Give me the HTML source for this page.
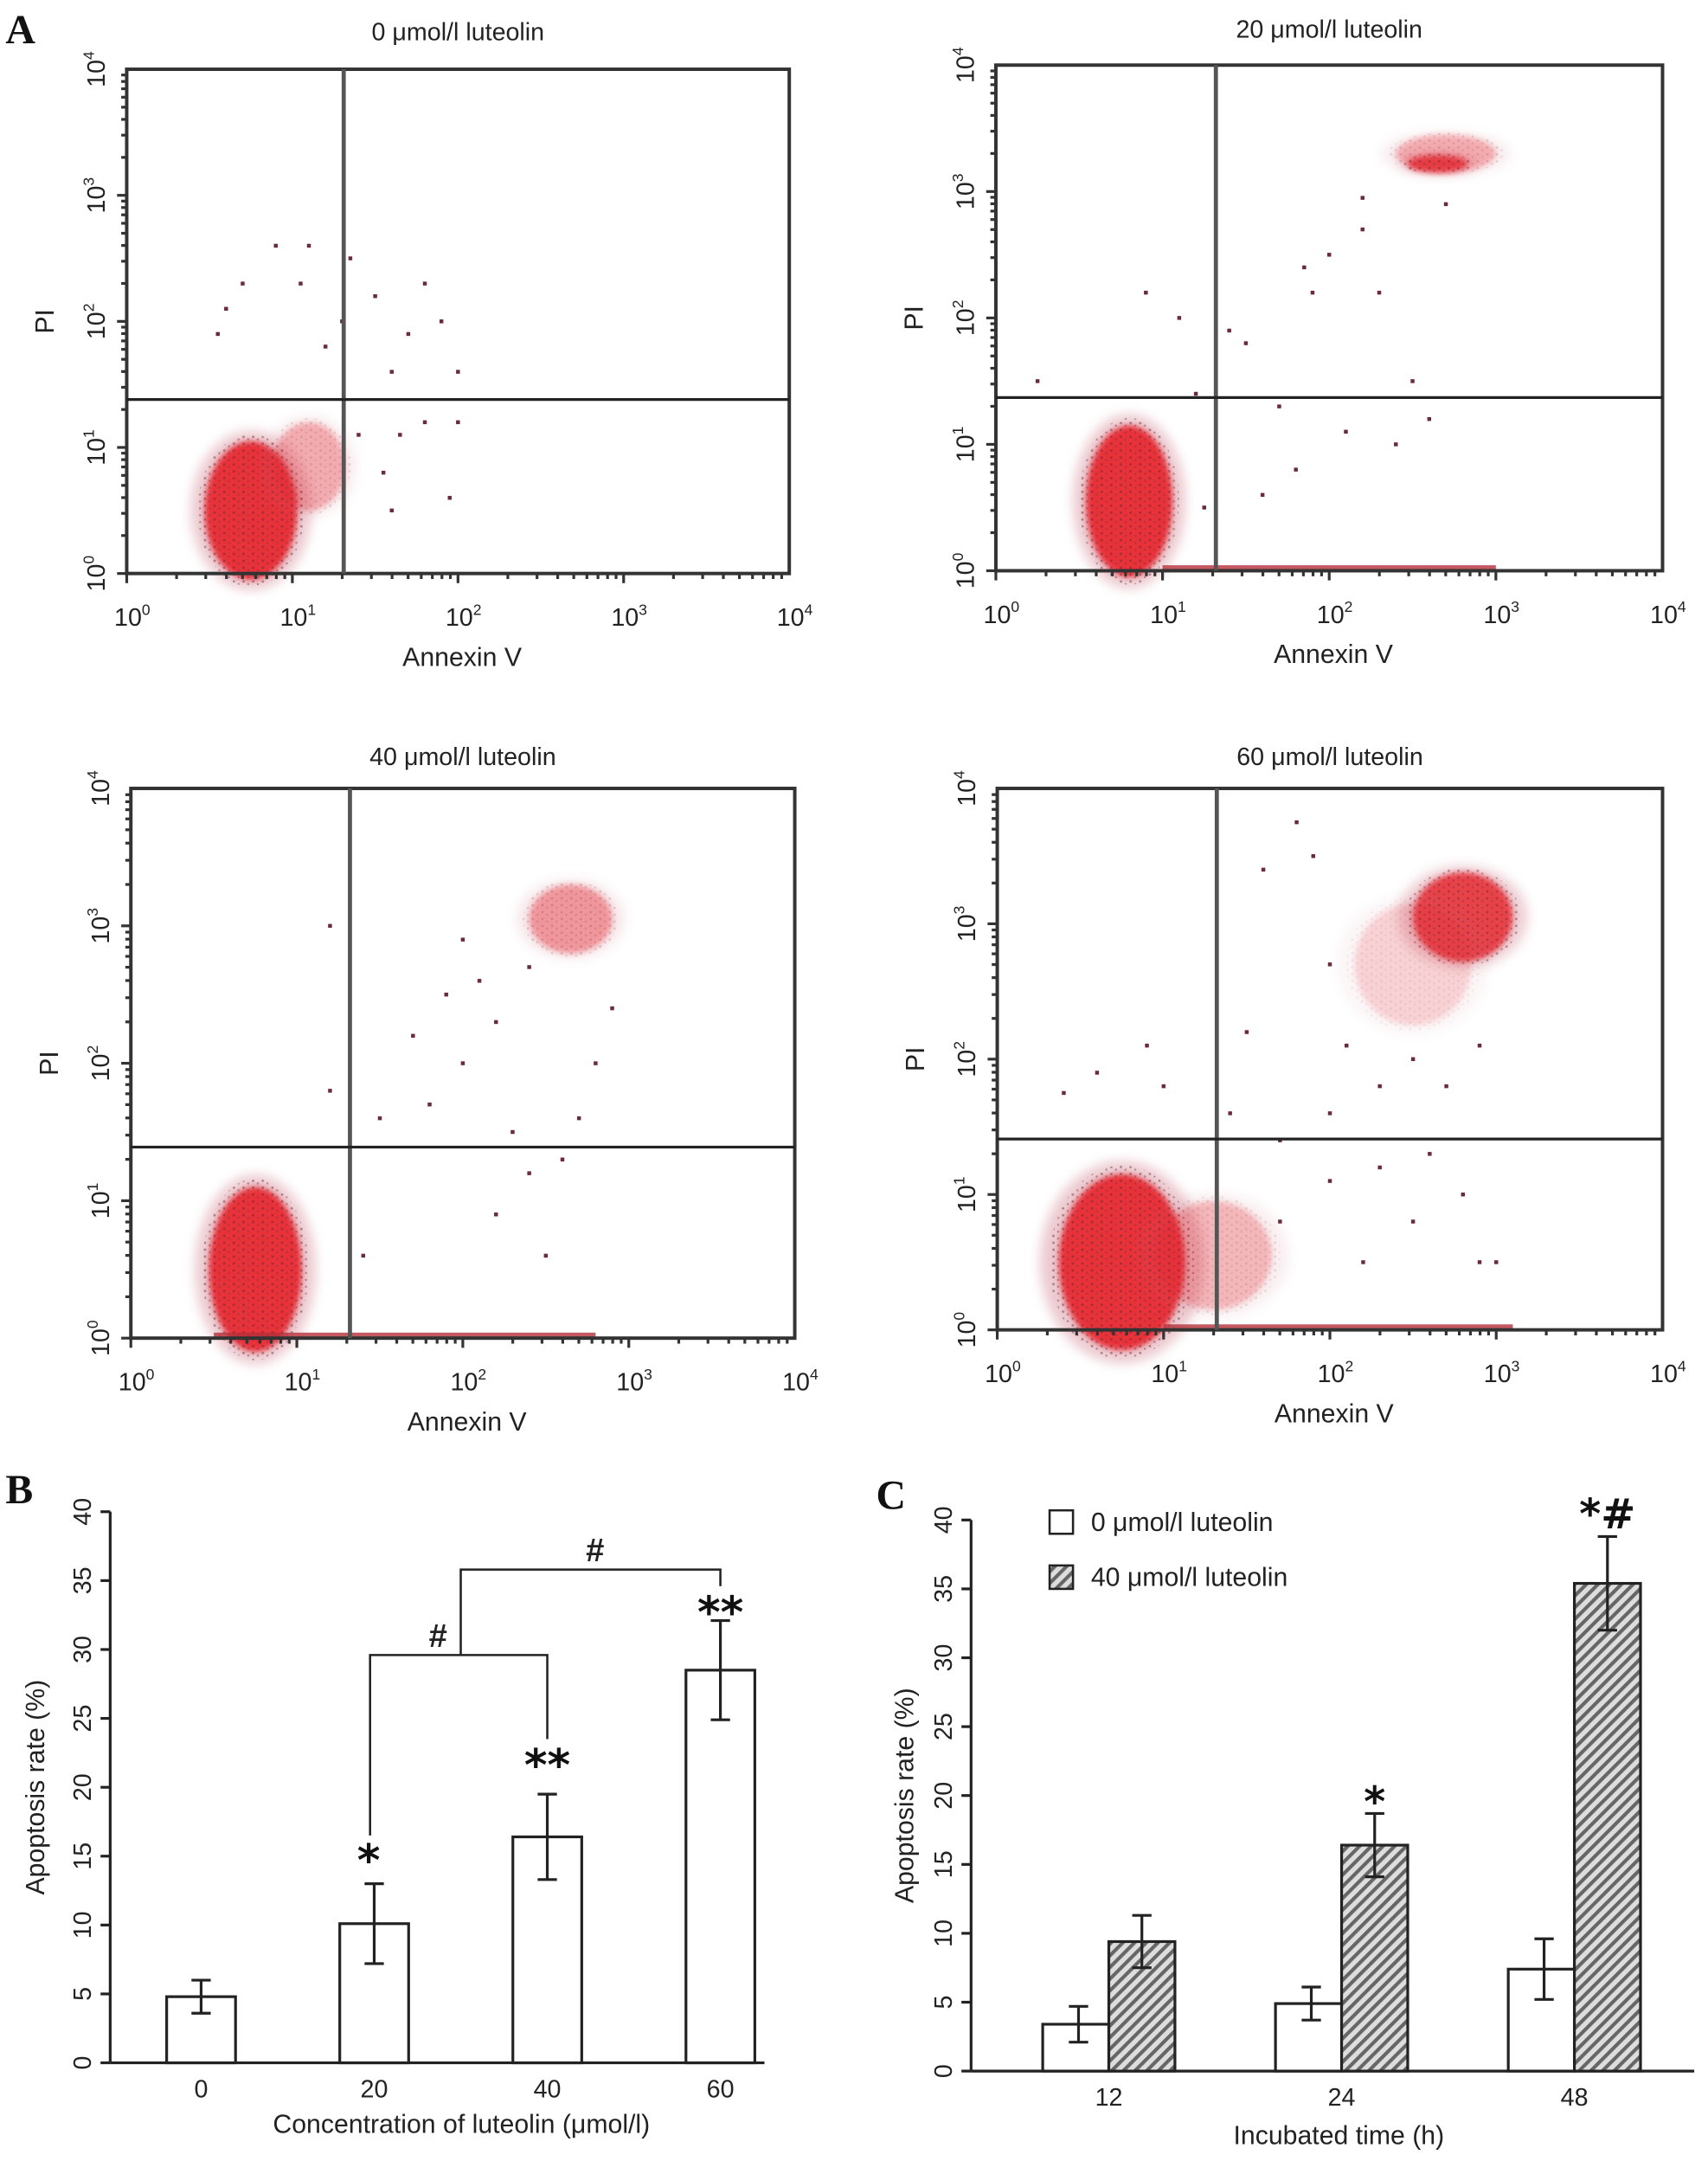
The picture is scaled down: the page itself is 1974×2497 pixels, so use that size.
<!DOCTYPE html>
<html><head><meta charset="utf-8"><style>
html,body{margin:0;padding:0;background:#fff}
svg{display:block}
text{font-family:"Liberation Sans",sans-serif;fill:#222}
.lbl{font-family:"Liberation Serif",serif;font-weight:bold;fill:#111}
.mark{font-family:"DejaVu Sans",sans-serif;font-weight:bold;fill:#111}
</style></head><body>
<svg id="fig" width="1974" height="2497" viewBox="0 0 1240 1568" xmlns="http://www.w3.org/2000/svg">
<defs>
<filter id="blur" x="-50%" y="-50%" width="200%" height="200%"><feGaussianBlur stdDeviation="4"/></filter>
<filter id="blur2" x="-50%" y="-50%" width="200%" height="200%"><feGaussianBlur stdDeviation="2"/></filter>
<pattern id="speck" patternUnits="userSpaceOnUse" width="7" height="5">
<rect x="1" y="1" width="1.6" height="1.6" fill="#5a2030"/><rect x="4.5" y="3" width="1.4" height="1.4" fill="#7a3040"/></pattern>
<pattern id="hatch" patternUnits="userSpaceOnUse" width="6" height="6" patternTransform="rotate(45)">
<rect width="6" height="6" fill="#ddd"/><rect x="0" y="0" width="2.6" height="6" fill="#666"/></pattern>
</defs>
<text class="lbl" x="4" y="31" font-size="30">A</text>
<text class="lbl" x="4" y="1091" font-size="30">B</text>
<text class="lbl" x="636" y="1095" font-size="30">C</text>
<g id="flow"></g>
<g id="chartB"></g>
<g id="chartC"></g>
</svg>
<script>
const NS="http://www.w3.org/2000/svg";
function mk(p,tag,attrs,txt){const e=document.createElementNS(NS,tag);for(const k in attrs)e.setAttribute(k,attrs[k]);if(txt!==undefined)e.textContent=txt;p.appendChild(e);return e;}

// ---- Flow cytometry panels (A) ----
const flowTitles=["0 μmol/l luteolin","20 μmol/l luteolin","40 μmol/l luteolin","60 μmol/l luteolin"];
const flowGateX=[1.31,1.32,1.32,1.32];
const flowGateY=[1.38,1.37,1.39,1.41];
// clusters: [centerLogX, centerLogY, radiusLogX, radiusLogY, intensity]
const flowClusters=[
 [[0.75,0.5,0.28,0.55,1],[1.1,0.85,0.22,0.35,0.35]],
 [[0.8,0.55,0.26,0.6,1],[2.65,3.22,0.18,0.07,0.9],[2.7,3.3,0.3,0.15,0.35]],
 [[0.75,0.5,0.28,0.6,1],[2.65,3.05,0.25,0.25,0.45]],
 [[0.75,0.5,0.38,0.65,1],[1.3,0.55,0.35,0.4,0.3],[2.8,3.05,0.3,0.33,0.9],[2.5,2.7,0.35,0.45,0.18]]
];
// baseline streak along bottom: [startLogX,endLogX] (null = none)
const flowStreak=[null,[1.0,3.0],[0.5,2.8],[1.0,3.1]];
// scattered events [logX, logY]
const flowPoints=[
 [[1.8,2.3],[1.1,2.6],[0.9,2.6],[1.35,2.5],[0.6,2.1],[1.5,2.2],[1.9,2.0],[1.7,1.9],[2.0,1.6],[1.6,1.6],[1.3,2.0],[1.8,1.2],[2.0,1.2],[1.95,0.6],[1.6,0.5],[1.55,0.8],[1.65,1.1],[1.4,1.1],[0.7,2.3],[1.05,2.3],[0.55,1.9],[1.2,1.8]],
 [[2.2,2.95],[1.85,2.4],[2.0,2.5],[2.3,2.2],[1.5,1.8],[1.2,1.4],[1.7,1.3],[2.1,1.1],[2.4,1.0],[1.6,0.6],[2.5,1.5],[2.2,2.7],[2.7,2.9],[1.9,2.2],[0.9,2.2],[1.1,2.0],[1.4,1.9],[2.6,1.2],[1.25,0.5],[1.8,0.8],[0.25,1.5]],
 [[1.2,3.0],[1.7,2.2],[2.0,2.0],[2.2,2.3],[1.5,1.6],[1.2,1.8],[2.3,1.5],[2.4,1.2],[2.5,0.6],[2.6,1.3],[1.9,2.5],[2.1,2.6],[2.8,2.0],[2.7,1.6],[2.9,2.4],[1.8,1.7],[1.4,0.6],[2.2,0.9],[2.0,2.9],[2.4,2.7]],
 [[1.0,1.8],[0.6,1.9],[0.4,1.75],[0.9,2.1],[1.8,3.75],[1.6,3.4],[1.9,3.5],[2.0,2.7],[1.5,2.2],[2.1,2.1],[2.3,1.8],[2.5,2.0],[2.7,1.8],[2.9,2.1],[1.7,1.4],[2.0,1.1],[2.3,1.2],[2.5,0.8],[2.9,0.5],[3.0,0.5],[1.7,0.8],[2.2,0.5],[2.6,1.3],[2.8,1.0],[1.4,1.6],[2.0,1.6]]
];
const flowBoxes=[[92,573,50,416],[723,1207,47,414],[95,577,572,971],[724,1207,572,965]];
const flowTitleY=[29,27,555,555];

function flowPanel(i){
 const g=mk(document.getElementById('flow'),'g',{});
 
 
 const [x0,x1,y0,y1]=flowBoxes[i];
 const sx=v=>x0+(x1-x0)*v/4, sy=v=>y1-(y1-y0)*v/4;
 const t=mk(g,'text',{x:(x0+x1)/2,y:flowTitleY[i],'font-size':18,'text-anchor':'middle'},flowTitles[i]);
 
 
 const cg=mk(g,'g',{});
 
 
 flowClusters[i].forEach(c=>{
  const rx=(x1-x0)*c[2]/4, ry=(y1-y0)*c[3]/4;
  const h=mk(cg,'ellipse',{cx:sx(c[0]),cy:sy(c[1]),rx:rx*1.3,ry:ry*1.15,fill:'#c86878',opacity:0.35*c[4],filter:'url(#blur)'});
  
  
  const e=mk(cg,'ellipse',{cx:sx(c[0]),cy:sy(c[1]),rx:rx,ry:ry,fill:'#e8222a',opacity:0.9*c[4],filter:'url(#blur2)'});
  
  
  const s=mk(cg,'ellipse',{cx:sx(c[0]),cy:sy(c[1]),rx:rx*1.15,ry:ry*1.1,fill:'url(#speck)',opacity:0.45*c[4]});
  
  
 });
 if(flowStreak[i]){
  const s=mk(g,'rect',{x:sx(flowStreak[i][0]),y:y1-4,width:sx(flowStreak[i][1])-sx(flowStreak[i][0]),height:4,fill:'#b5303a',opacity:0.8});
  
  
 }
 flowPoints[i].forEach(p=>{
  const d=mk(g,'rect',{x:sx(p[0])-1.4,y:sy(p[1])-1.4,width:2.8,height:2.8,fill:'#6a2a3a'});
  
  
 });
 const b=mk(g,'rect',{x:x0,y:y0,width:x1-x0,height:y1-y0,fill:'none',stroke:'#333','stroke-width':2.5});
 
 
 const gv=mk(g,'line',{x1:sx(flowGateX[i]),x2:sx(flowGateX[i]),y1:y0,y2:y1,stroke:'#555','stroke-width':3});
 
 
 const gh=mk(g,'line',{x1:x0,x2:x1,y1:sy(flowGateY[i]),y2:sy(flowGateY[i]),stroke:'#222','stroke-width':2});
 
 
 for(let d=0;d<4;d++){for(let k=1;k<10;k++){const v=d+Math.log10(k);const L=k===1?7:4;
  mk(g,'line',{x1:sx(v),x2:sx(v),y1:y1,y2:y1+L,stroke:'#333','stroke-width':2});
  mk(g,'line',{x1:x0,x2:x0-L,y1:sy(v),y2:sy(v),stroke:'#333','stroke-width':2});}}
 for(let d=0;d<=4;d++){
  const tx=mk(g,'text',{x:sx(d)+4,y:y1+38,'font-size':18,'text-anchor':'middle'});
  
  
  mk(tx,'tspan',{},'10');mk(tx,'tspan',{'font-size':11,dy:-8},String(d));
  const ty=mk(g,'text',{x:0,y:0,'font-size':18,'text-anchor':'middle',transform:`translate(${x0-16},${sy(d)}) rotate(-90)`});
  
  
  mk(ty,'tspan',{},'10');mk(ty,'tspan',{'font-size':11,dy:-8},String(d));
 }
 const ax=mk(g,'text',{x:(x0+x1)/2+3,y:y1+67,'font-size':19,'text-anchor':'middle'},'Annexin V');
 
 
 const ay=mk(g,'text',{x:0,y:0,'font-size':19,'text-anchor':'middle',transform:`translate(${x0-53},${sy(2)}) rotate(-90)`},'PI');
 
 
}
for(let i=0;i<4;i++)flowPanel(i);

// ---- Chart B ----
const bCategories=["0","20","40","60"];
const bValues=[4.8,10.1,16.4,28.5];
const bErrors=[1.2,2.9,3.1,3.6];
const bYTicks=[0,5,10,15,20,25,30,35,40];
const bMarks=["","*","**","**"];
(function(){
 const g=document.getElementById('chartB');
 const X0=80,X1=555,Y0=1497,Y1=1097;
 const sy=v=>Y0-(Y0-Y1)*v/40;
 const cx=[146,271,397,523];
 const sx=i=>cx[0]+(cx[3]-cx[0])*i/(bCategories.length-1);
 const bw=50;
 const markOff=[0,-6,-10,5];
 mk(g,'line',{x1:X0,x2:X0,y1:Y1,y2:Y0,stroke:'#222','stroke-width':2});
 mk(g,'line',{x1:X0,x2:X1,y1:Y0,y2:Y0,stroke:'#222','stroke-width':2});
 bYTicks.forEach(v=>{mk(g,'line',{x1:X0-7,x2:X0,y1:sy(v),y2:sy(v),stroke:'#222','stroke-width':2});
  const t=mk(g,'text',{x:0,y:0,'font-size':18,'text-anchor':'middle',transform:`translate(${X0-14},${sy(v)}) rotate(-90)`},String(v));
  
  });
 bValues.forEach((v,i)=>{
  const r=mk(g,'rect',{x:sx(i)-bw/2,y:sy(v),width:bw,height:sy(0)-sy(v),fill:'#fff',stroke:'#222','stroke-width':2});
  
  
  const e=bErrors[i];
  mk(g,'path',{d:`M${sx(i)},${sy(v-e)}V${sy(v+e)}M${sx(i)-7},${sy(v-e)}h14M${sx(i)-7},${sy(v+e)}h14`,stroke:'#222','stroke-width':2,fill:'none'});
  const tl=mk(g,'text',{x:sx(i),y:Y0+25,'font-size':18,'text-anchor':'middle'},bCategories[i]);
  
  
  if(bMarks[i]){const m=mk(g,'text',{class:'mark',x:sx(i)+(i==1?-4:0),y:sy(v+e)+markOff[i],'font-size':32,'text-anchor':'middle'},bMarks[i]);
   
   }
 });
 const br1Y=sy(29.6), br2Y=sy(35.8);
 mk(g,'path',{d:`M${sx(1)-3},${sy(16.5)}V${br1Y}H${sx(2)}V${sy(23.5)}`,stroke:'#222','stroke-width':1.6,fill:'none'});
 mk(g,'path',{d:`M${(sx(1)+sx(2))/2},${br1Y}V${br2Y}H${sx(3)}V${sy(34.6)}`,stroke:'#222','stroke-width':1.6,fill:'none'});
 mk(g,'text',{x:318,y:br1Y-6,'font-size':24,'text-anchor':'middle','font-weight':'bold'},'#');
 mk(g,'text',{x:432,y:br2Y-6,'font-size':24,'text-anchor':'middle','font-weight':'bold'},'#');
 const xt=mk(g,'text',{x:335,y:1548,'font-size':19,'text-anchor':'middle'},'Concentration of luteolin (μmol/l)');
 
 
 const yt=mk(g,'text',{x:0,y:0,'font-size':19,'text-anchor':'middle',transform:`translate(32,1297) rotate(-90)`},'Apoptosis rate (%)');
 
 
})();

// ---- Chart C ----
const cCategories=["12","24","48"];
const cControl=[3.4,4.9,7.4];
const cControlErr=[1.3,1.2,2.2];
const cTreated=[9.4,16.4,35.4];
const cTreatedErr=[1.9,2.3,3.4];
const cYTicks=[0,5,10,15,20,25,30,35,40];
const cMarks=["","*","*#"];
(function(){
 const g=document.getElementById('chartC');
 const X0=705,X1=1230,Y0=1503,Y1=1103;
 const sy=v=>Y0-(Y0-Y1)*v/40;
 const c0=805,c2=1143;
 const sx=i=>c0+(c2-c0)*i/(cCategories.length-1);
 const bw=48;
 const markOff=[0,2,-6];
 mk(g,'line',{x1:X0,x2:X0,y1:Y1,y2:Y0,stroke:'#222','stroke-width':2});
 mk(g,'line',{x1:X0,x2:X1,y1:Y0,y2:Y0,stroke:'#222','stroke-width':2});
 cYTicks.forEach(v=>{mk(g,'line',{x1:X0-7,x2:X0,y1:sy(v),y2:sy(v),stroke:'#222','stroke-width':2});
  const t=mk(g,'text',{x:0,y:0,'font-size':18,'text-anchor':'middle',transform:`translate(${X0-14},${sy(v)}) rotate(-90)`},String(v));
  
  });
 function err(x,v,e){mk(g,'path',{d:`M${x},${sy(v-e)}V${sy(v+e)}M${x-7},${sy(v-e)}h14M${x-7},${sy(v+e)}h14`,stroke:'#222','stroke-width':2,fill:'none'});}
 cCategories.forEach((c,i)=>{
  const a=mk(g,'rect',{x:sx(i)-bw,y:sy(cControl[i]),width:bw,height:sy(0)-sy(cControl[i]),fill:'#fff',stroke:'#222','stroke-width':2});
  
  
  const b=mk(g,'rect',{x:sx(i),y:sy(cTreated[i]),width:bw,height:sy(0)-sy(cTreated[i]),fill:'url(#hatch)',stroke:'#222','stroke-width':2});
  
  
  err(sx(i)-bw/2+2,cControl[i],cControlErr[i]);
  err(sx(i)+bw/2,cTreated[i],cTreatedErr[i]);
  const tl=mk(g,'text',{x:sx(i),y:Y0+25,'font-size':18,'text-anchor':'middle'},c);
  
  
  if(cMarks[i]){const m=mk(g,'text',{class:'mark',x:sx(i)+bw/2,y:sy(cTreated[i]+cTreatedErr[i])+markOff[i],'font-size':30,'text-anchor':'middle'},cMarks[i]);
   
   }
 });
 const l1=mk(g,'rect',{x:762,y:1096,width:17,height:17,fill:'#fff',stroke:'#222','stroke-width':1.6});
 
 
 const lt1=mk(g,'text',{x:792,y:1111,'font-size':19},'0 μmol/l luteolin');
 
 
 const l2=mk(g,'rect',{x:762,y:1136,width:17,height:17,fill:'url(#hatch)',stroke:'#222','stroke-width':1.6});
 
 
 const lt2=mk(g,'text',{x:792,y:1151,'font-size':19},'40 μmol/l luteolin');
 
 
 const xt=mk(g,'text',{x:972,y:1556,'font-size':19,'text-anchor':'middle'},'Incubated time (h)');
 
 
 const yt=mk(g,'text',{x:0,y:0,'font-size':19,'text-anchor':'middle',transform:`translate(663,1303) rotate(-90)`},'Apoptosis rate (%)');
 
 
})();
</script>
</body></html>
